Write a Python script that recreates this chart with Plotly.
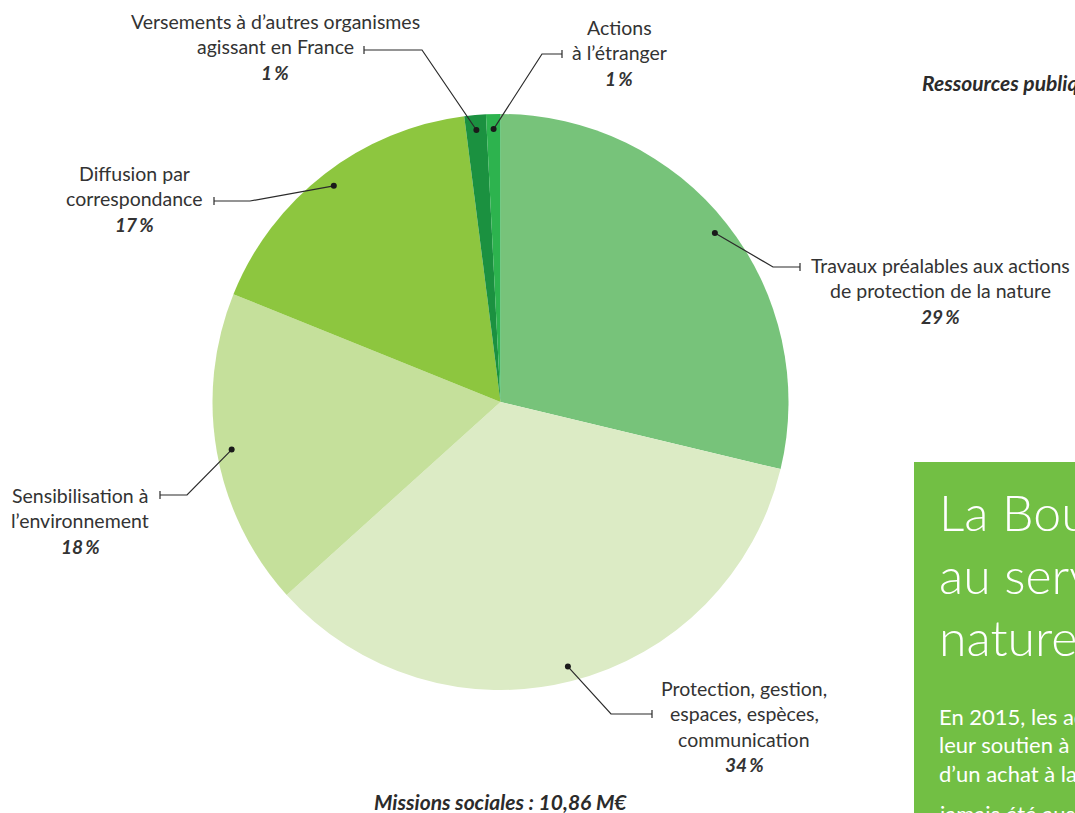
import numpy as np
import plotly.graph_objects as go

# ---- data ----
categories = [
    "Travaux préalables aux actions de protection de la nature",
    "Protection, gestion, espaces, espèces, communication",
    "Sensibilisation à l'environnement",
    "Diffusion par correspondance",
    "Versements à d'autres organismes agissant en France",
    "Actions à l'étranger",
]
values = [28.6, 34.4, 17.7, 16.8, 1.2, 0.8]
pct_text = ["29\u2009%", "34\u2009%", "18\u2009%", "17\u2009%", "1\u2009%", "1\u2009%"]
label_lines = [
    ["Travaux préalables aux actions", "de protection de la nature"],
    ["Protection, gestion,", "espaces, espèces,", "communication"],
    ["Sensibilisation à", "l\u2019environnement"],
    ["Diffusion par", "correspondance"],
    ["Versements à d\u2019autres organismes", "agissant en France"],
    ["Actions", "à l\u2019étranger"],
]
colors = ["#77c37a", "#dcebc5", "#c5e09b", "#8dc63f", "#1b9140", "#2db34e"]
title_text = "Missions sociales : 10,86 M€"

# ---- layout constants (pixels) ----
W, H = 1075, 813
cx, cy, R = 500.5, 402, 288
leader = [
    dict(elbow=(773, 267), end=800, tx=940, ty=265),
    dict(elbow=(611, 714), end=652, tx=744, ty=688),
    dict(elbow=(187, 495), end=160, tx=80, ty=495),
    dict(elbow=(250, 201), end=214, tx=134, ty=173),
    dict(elbow=(422, 50), end=364, tx=275, ty=21),
    dict(elbow=(542, 54), end=562, tx=619, ty=27),
]
step = 25.5
FONT = "Lato"

fig = go.Figure()
fig.add_trace(go.Pie(
    labels=categories, values=values, sort=False, direction="clockwise",
    rotation=0, textinfo="none", hoverinfo="label+percent",
    marker=dict(colors=colors, line=dict(width=0)),
    domain=dict(x=[(cx - R) / W, (cx + R) / W], y=[1 - (cy + R) / H, 1 - (cy - R) / H]),
    showlegend=False,
))
# invisible trace to activate the pixel-based cartesian axes
fig.add_trace(go.Scatter(x=[0, W], y=[0, H], mode="markers",
                         marker=dict(opacity=0), hoverinfo="skip", showlegend=False))

vals = np.array(values, dtype=float)
frac_end = np.cumsum(vals) / vals.sum()
frac_mid = frac_end - vals / vals.sum() / 2
ang = frac_mid * 2 * np.pi

annotations = []
shapes = [dict(type="rect", xref="x", yref="y", x0=914, x1=1200, y0=462, y1=900,
               fillcolor="#72bf44", line=dict(width=0), layer="below")]
line_color = "#2b2b2b"
text_color = "#333333"
for i, a in enumerate(ang):
    dx = cx + 0.948 * R * np.sin(a)
    dy = cy - 0.948 * R * np.cos(a)
    L = leader[i]
    ex, ey = L["elbow"]
    shapes.append(dict(type="path", xref="x", yref="y", layer="above",
                       path=f"M{dx:.1f},{dy:.1f} L{ex},{ey} L{L['end']},{ey}",
                       line=dict(color=line_color, width=1.2)))
    shapes.append(dict(type="line", xref="x", yref="y", layer="above",
                       x0=L["end"], x1=L["end"], y0=ey - 4, y1=ey + 4,
                       line=dict(color=line_color, width=1.2)))
    shapes.append(dict(type="circle", xref="x", yref="y", layer="above",
                       x0=dx - 3, x1=dx + 3, y0=dy - 3, y1=dy + 3,
                       fillcolor="#1a1a1a", line=dict(width=0)))
    lines = label_lines[i]
    for k, t in enumerate(lines):
        annotations.append(dict(
            x=L["tx"], y=L["ty"] + k * step, xref="x", yref="y", text=t,
            showarrow=False, xanchor="center", yanchor="middle",
            font=dict(family=FONT, size=19.5, color=text_color),
        ))
    annotations.append(dict(
        x=L["tx"], y=L["ty"] + len(lines) * step, xref="x", yref="y",
        text="<b><i>" + pct_text[i] + "</i></b>",
        showarrow=False, xanchor="center", yanchor="middle",
        font=dict(family=FONT, size=19, color=text_color),
    ))

annotations.append(dict(
    x=500, y=801, xref="x", yref="y", text="<b><i>" + title_text + "</i></b>",
    showarrow=False, xanchor="center", yanchor="middle",
    font=dict(family=FONT, size=21, color="#2b2b2b"),
))
annotations.append(dict(
    x=920, y=82, xref="x", yref="y", text="<b><i>Ressources publiques</i></b>",
    showarrow=False, xanchor="left", yanchor="middle",
    font=dict(family=FONT, size=21, color="#2b2b2b"),
))
box_title = ["La Boutique", "au service de la", "nature"]
for k, t in enumerate(box_title):
    annotations.append(dict(
        x=937, y=512 + k * 62.5, xref="x", yref="y", text=t,
        showarrow=False, xanchor="left", yanchor="middle",
        font=dict(family=FONT, size=50, color="white", weight=300),
    ))
box_body = ["En 2015, les adhérents ont", "leur soutien à l\u2019association", "d\u2019un achat à la boutique"]
for k, t in enumerate(box_body):
    annotations.append(dict(
        x=937, y=716 + k * 28.5, xref="x", yref="y", text=t,
        showarrow=False, xanchor="left", yanchor="middle",
        font=dict(family=FONT, size=22, color="white"),
    ))
annotations.append(dict(
    x=937, y=798, xref="x", yref="y", text="jamais été aussi",
    showarrow=False, xanchor="left", yanchor="top",
    font=dict(family=FONT, size=22, color="white"),
))

fig.update_layout(
    width=W, height=H, margin=dict(l=0, r=0, t=0, b=0),
    paper_bgcolor="white", plot_bgcolor="rgba(0,0,0,0)",
    xaxis=dict(range=[0, W], visible=False, fixedrange=True),
    yaxis=dict(range=[H, 0], visible=False, fixedrange=True),
    annotations=annotations, shapes=shapes,
)

fig.write_html("out.html", config={"displayModeBar": False},
               post_script="document.body.style.margin='0';")
